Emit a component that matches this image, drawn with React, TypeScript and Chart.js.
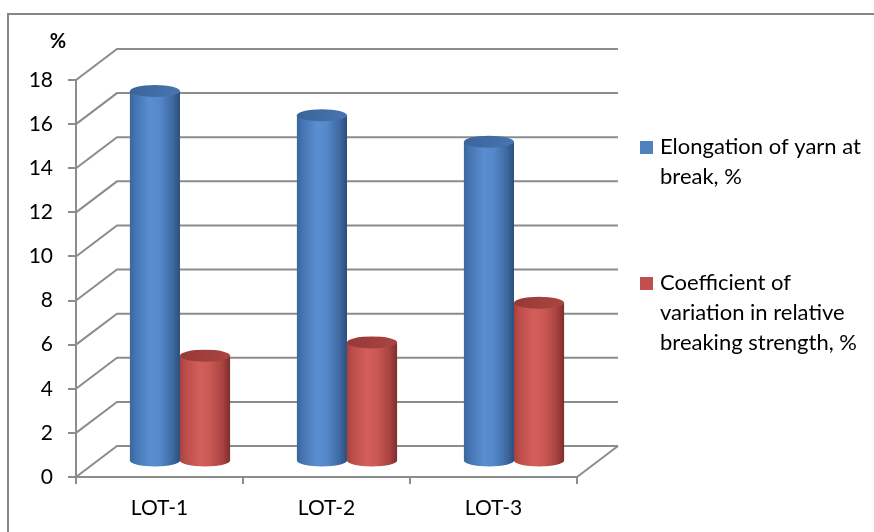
import React, { useEffect, useRef } from "react";
import { Chart, registerables } from "chart.js";

Chart.register(...registerables);

const categories = ["LOT-1", "LOT-2", "LOT-3"];
const elongation = [16.8, 15.7, 14.5];
const variation = [4.8, 5.4, 7.2];
const seriesNames = [
  ["Elongation of yarn at", "break, %"],
  ["Coefficient of", "variation in relative", "breaking strength, %"],
];
const yMin = 0;
const yMax = 18;
const yStep = 2;

const FONT = "Lato, 'Noto Sans', sans-serif";
const GRID = "#8c8c8c";
const BLUE = "#4f81bd";
const RED = "#c0504d";

// depth of the 3-D box (back wall offset) in pixels
const DEPTH_X = 41;
const DEPTH_Y = -31;

const shades: Record<string, { body: [number, string][]; top: [string, string] }> = {
  [BLUE]: {
    body: [
      [0, "#3a669b"],
      [0.12, "#4575b2"],
      [0.4, "#5a8ed2"],
      [0.6, "#5488cb"],
      [0.85, "#3e69a1"],
      [1, "#2c4e7e"],
    ],
    top: ["#3a6399", "#4876b1"],
  },
  [RED]: {
    body: [
      [0, "#a6413e"],
      [0.12, "#bd4e4b"],
      [0.4, "#d35f5b"],
      [0.6, "#cb5854"],
      [0.85, "#a94340"],
      [1, "#7c2e2c"],
    ],
    top: ["#963937", "#aa4542"],
  },
};

// Back wall gridlines, side edges and floor of the 3-D box
const boxPlugin = {
  id: "box3d",
  beforeDatasetsDraw(chart: any) {
    const { ctx, chartArea, scales } = chart;
    const y = scales.y;
    const { left, right, bottom } = chartArea;
    ctx.save();
    ctx.strokeStyle = GRID;
    ctx.lineWidth = 2;
    ctx.lineJoin = "miter";
    for (let v = yMin; v <= yMax; v += yStep) {
      const py = y.getPixelForValue(v);
      ctx.beginPath();
      ctx.moveTo(left, py);
      ctx.lineTo(left + DEPTH_X, py + DEPTH_Y);
      ctx.lineTo(right + DEPTH_X, py + DEPTH_Y);
      ctx.stroke();
    }
    ctx.beginPath();
    ctx.moveTo(right, bottom);
    ctx.lineTo(right + DEPTH_X, bottom + DEPTH_Y);
    ctx.stroke();
    ctx.restore();
  },
};

// Cylinders replace the flat bars, placed half-way into the box depth
const cylinderPlugin = {
  id: "cylinders",
  beforeDatasetDraw() {
    return false;
  },
  afterDatasetsDraw(chart: any) {
    const { ctx } = chart;
    const dx = DEPTH_X / 2;
    const dy = DEPTH_Y / 2;
    chart.data.datasets.forEach((ds: any, i: number) => {
      const meta = chart.getDatasetMeta(i);
      const shade = shades[ds.backgroundColor];
      meta.data.forEach((bar: any) => {
        const { x, y, base, width } = bar.getProps(["x", "y", "base", "width"], true);
        const cx = x + dx;
        const top = y + dy;
        const bot = base + dy;
        const rx = width / 2;
        const ry = 6;
        ctx.save();
        const g = ctx.createLinearGradient(cx - rx, 0, cx + rx, 0);
        shade.body.forEach(([o, c]) => g.addColorStop(o, c));
        ctx.fillStyle = g;
        ctx.beginPath();
        ctx.moveTo(cx - rx, top);
        ctx.lineTo(cx - rx, bot);
        ctx.ellipse(cx, bot, rx, ry, 0, Math.PI, 0, true);
        ctx.lineTo(cx + rx, top);
        ctx.closePath();
        ctx.fill();
        const tg = ctx.createLinearGradient(cx - rx, top - ry, cx + rx, top + ry);
        tg.addColorStop(0, shade.top[0]);
        tg.addColorStop(1, shade.top[1]);
        ctx.fillStyle = tg;
        ctx.beginPath();
        ctx.ellipse(cx, top, rx, ry, 0, 0, Math.PI * 2);
        ctx.fill();
        ctx.restore();
      });
    });
  },
};

// Outer frame, unit label and the wrapped legend on the right
const decorPlugin = {
  id: "decor",
  afterDraw(chart: any) {
    const { ctx } = chart;
    ctx.save();
    ctx.strokeStyle = "#868686";
    ctx.lineWidth = 2;
    ctx.strokeRect(8, 14, 900, 600);

    ctx.fillStyle = "#000";
    ctx.font = `bold 20px ${FONT}`;
    ctx.textAlign = "center";
    ctx.textBaseline = "middle";
    ctx.fillText("%", 58, 42);

    ctx.font = `22px ${FONT}`;
    ctx.textAlign = "left";
    const starts = [147, 283];
    chart.data.datasets.forEach((ds: any, i: number) => {
      const y0 = starts[i];
      ctx.fillStyle = ds.backgroundColor;
      ctx.fillRect(640, y0 - 6, 13, 13);
      ctx.fillStyle = "#000";
      seriesNames[i].forEach((line, k) => {
        ctx.fillText(line, 660, y0 + k * 30);
      });
    });
    ctx.restore();
  },
};

export default function App() {
  const ref = useRef<HTMLCanvasElement>(null);
  useEffect(() => {
    if (!ref.current) return;
    const chart = new Chart(ref.current, {
      type: "bar",
      data: {
        labels: categories,
        datasets: [
          { label: seriesNames[0].join(" "), data: elongation, backgroundColor: BLUE },
          { label: seriesNames[1].join(" "), data: variation, backgroundColor: RED },
        ],
      },
      options: {
        responsive: false,
        animation: false,
        devicePixelRatio: 1,
        layout: { padding: { left: 8, top: 80, right: 297, bottom: 0 } },
        datasets: { bar: { categoryPercentage: 0.6, barPercentage: 1 } },
        plugins: { legend: { display: false }, tooltip: { enabled: false } },
        scales: {
          x: {
            grid: { drawOnChartArea: false, drawTicks: true, tickLength: 7, color: GRID, lineWidth: 2 },
            border: { display: true, color: GRID, width: 2 },
            ticks: { font: { family: FONT, size: 21 }, color: "#000", padding: 12 },
            afterFit: (s: any) => {
              s.height = 55;
            },
          },
          y: {
            min: yMin,
            max: yMax,
            grid: { drawOnChartArea: false, drawTicks: true, tickLength: 8, color: GRID, lineWidth: 2 },
            border: { display: true, color: GRID, width: 2 },
            ticks: { stepSize: yStep, font: { family: FONT, size: 21 }, color: "#000", padding: 15 },
            afterFit: (s: any) => {
              s.width = 68;
            },
          },
        },
      },
      plugins: [boxPlugin, cylinderPlugin, decorPlugin],
    });
    return () => chart.destroy();
  }, []);
  return (
    <div style={{ position: "fixed", left: 0, top: 0, width: 874, height: 532, background: "#fff" }}>
      <canvas ref={ref} width={874} height={532} />
    </div>
  );
}
